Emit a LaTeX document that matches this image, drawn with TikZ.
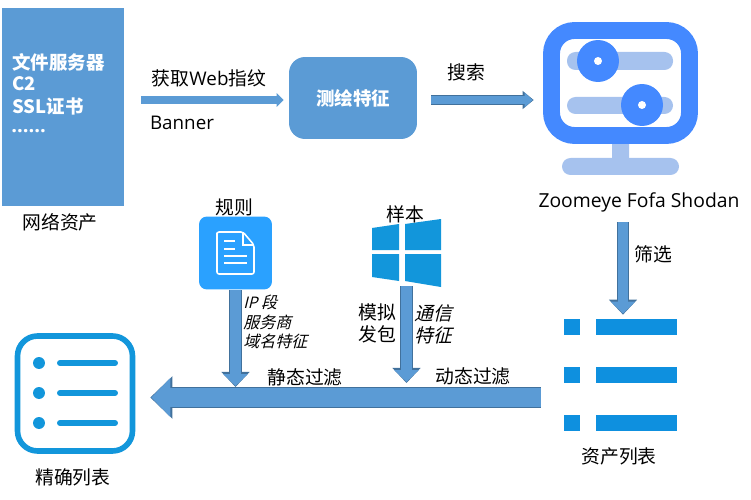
\documentclass[tikz,border=0pt]{standalone}
\usepackage{fontspec}
\setmainfont{Noto Sans CJK SC}
\newfontfamily\latinfont{Open Sans}
\newfontfamily\slantfont[FakeSlant=0.25]{Noto Sans CJK SC}
\newfontfamily\slantlatin[FakeSlant=0.25]{Open Sans}
\usetikzlibrary{arrows.meta}
\usetikzlibrary{positioning}

\definecolor{boxblue}{HTML}{5B9BD5}
\definecolor{edgeblue}{HTML}{41719C}
\definecolor{monblue}{HTML}{4489FF}
\definecolor{monpale}{HTML}{A6C2EE}
\definecolor{docblue}{HTML}{2AA1FF}
\definecolor{winblue}{HTML}{1296DB}
\definecolor{rowblue}{HTML}{0E90DF}

\tikzset{
  lbl/.style={font=\fontsize{10.7pt}{12pt}\selectfont, inner sep=0pt},
  whitelbl/.style={lbl, text=white, font=\fontsize{10.5pt}{12pt}\selectfont\bfseries},
  blockarrow/.style n args={3}{line width=#1, draw=boxblue,
    -{Triangle[width=#2, length=#3, fill=boxblue, color=boxblue, sep=0.6pt]},
    preaction={draw=edgeblue, line width=#1+0.9pt,
      {Bar[width=#1+0.9pt, line width=0.5pt]}-{Triangle[width=#2+2pt, length=#3+1.8pt, color=edgeblue, fill=edgeblue]}}},
  flatarrow/.style={line width=4pt, draw=boxblue, -{Triangle[width=7.6pt, length=4pt, fill=boxblue, color=boxblue]}},
  rowbar/.style={fill=rowblue, minimum width=1.62cm, minimum height=0.32cm, inner sep=0pt}
}

\begin{document}
\begin{tikzpicture}[x=0.02cm, y=-0.02cm]
\useasboundingbox (0,0) rectangle (751,500);

% top row
\node[fill=boxblue, minimum width=2.44cm, minimum height=3.96cm, inner sep=0pt] (assets) at (63,107) {};
\node[whitelbl, anchor=west] (assetA) at (12,62) {文件服务器};
\node[whitelbl, anchor=west] (assetB) at (12,84) {C2};
\node[whitelbl, anchor=west] (assetC) at (12,106) {SSL证书};
\node[whitelbl, anchor=west, font=\fontsize{11.5pt}{12pt}\selectfont\bfseries] (assetD) at (11,131) {{\latinfont ......}};
\node[lbl] (assetsName) at (60,222) {网络资产};

\node[fill=boxblue, rounded corners=0.32cm, minimum width=2.56cm, minimum height=1.64cm, inner sep=0pt] (mapping) at (353,98) {};
\node[whitelbl] (mappingName) at (353,98) {测绘特征};
\node[lbl] (webLabel) at (209,78) {获取{\latinfont Web}指纹};
\node[lbl] (bannerLabel) at (182,123) {\latinfont Banner};
\node[lbl] (searchLabel) at (466,72) {搜索};

% monitor with two sliders
\node[minimum width=3.1cm, minimum height=3.06cm, inner sep=0pt] (monitor) at (620.5,98.5) {};
\fill[monpale, rounded corners=1pt] (612,140) rectangle (629,160);
\fill[monpale, rounded corners=0.17cm] (562,158) rectangle (679,175);
\draw[monblue, line width=9.6pt, rounded corners=0.46cm] (551.5,30.5) rectangle (689.5,135.5);
\fill[monpale, rounded corners=0.17cm] (567,52) rectangle (673,70);
\fill[monpale, rounded corners=0.17cm] (567,97) rectangle (673,114);
\fill[monblue] (598,61) circle (0.42cm);
\fill[monblue] (642,105) circle (0.42cm);
\fill[white] (598,61) circle (0.08cm);
\fill[white] (642,105) circle (0.08cm);
\node[lbl, font=\fontsize{11pt}{12pt}\selectfont\latinfont] (engines) at (639,202) {Zoomeye Fofa Shodan};

\coordinate (assetsOut) at (124,100);
\draw[flatarrow, shorten <=0.34cm, shorten >=0.1cm] (assetsOut) -- (assetsOut -| mapping.west);
\draw[blockarrow={4.5pt}{8pt}{4.5pt}, shorten <=0.28cm, shorten >=0.18cm] (mapping.east |- assetsOut) -- (monitor.west |- assetsOut);

% rule document and sample window
\node[lbl] (ruleName) at (234,207) {规则};
\node[fill=docblue, rounded corners=0.16cm, minimum size=1.46cm, inner sep=0pt] (rule) at (235.5,253) {};
\draw[white, line width=0.9pt, rounded corners=0.04cm, line join=round] (217,235) -- (217,274) -- (254,274) -- (254,245) -- (243,232) -- (217,232) -- cycle;
\draw[white, line width=0.9pt] (243,232) -- (243,245) -- (254,245);
\draw[white, line width=0.9pt] (224,241) -- (235,241);
\draw[white, line width=0.9pt] (224,249) -- (235,249);
\draw[white, line width=0.9pt] (224,256) -- (247,256);
\draw[white, line width=0.9pt] (224,263) -- (247,263);

\node[minimum width=1.38cm, minimum height=1.36cm, inner sep=0pt] (sample) at (406.5,252) {};
\fill[winblue] (372,228) -- (399,224) -- (399,250) -- (372,250) -- cycle;
\fill[winblue] (405,224) -- (441,219) -- (441,250) -- (405,250) -- cycle;
\fill[winblue] (372,254) -- (399,254) -- (399,281) -- (372,277) -- cycle;
\fill[winblue] (405,254) -- (441,254) -- (441,287) -- (405,281) -- cycle;
\node[lbl] (sampleName) at (405,214) {样本};

\node[lbl, anchor=west, align=left, font=\fontsize{9.1pt}{11.1pt}\selectfont\slantfont] (ruleNotes) at (243,322) {{\slantlatin IP} 段\\服务商\\域名特征};
\node[lbl, anchor=west, align=left, font=\fontsize{10.7pt}{12.4pt}\selectfont] (sendLabel) at (358,323) {模拟\\发包};
\node[lbl, anchor=west, align=left, font=\fontsize{10.7pt}{12.4pt}\selectfont\slantfont] (trafficLabel) at (414,324) {通信\\特征};
\node[lbl] (staticLabel) at (305,377) {静态过滤};
\node[lbl] (dynamicLabel) at (473,376) {动态过滤};
\node[lbl] (filterLabel) at (653,254) {筛选};

% asset list
\fill[rowblue] (564,319) rectangle (580,335);
\fill[rowblue] (564,367) rectangle (580,383);
\fill[rowblue] (564,415) rectangle (580,431);
\node[rowbar] (rowA) at (636.5,327) {};
\node[rowbar] (rowB) at (636.5,375) {};
\node[rowbar] (rowC) at (636.5,423) {};
\node[lbl] (listName) at (619,456) {资产列表};

% exact list
\node[draw=winblue, line width=3.2pt, rounded corners=0.4cm, minimum size=2.3cm, inner sep=0pt] (exact) at (75,393.5) {};
\foreach \y in {363,393,423} {
  \fill[winblue] (39,\y) circle (0.12cm);
  \draw[winblue, line width=3.4pt, line cap=round] (60,\y) -- (115,\y);
}
\node[lbl] (exactName) at (73,477) {精确列表};

% connectors between rows
\coordinate (mergeEnd) at (541,397.5);
\coordinate (filterTop) at (623,222);
\draw[blockarrow={10.8pt}{21.5pt}{10.8pt}, shorten >=0.3cm] (mergeEnd) -- (mergeEnd -| exact.east);
\draw[blockarrow={6.2pt}{13.6pt}{6.8pt}, shorten >=0.21cm] (rule.south) -- (rule.south |- mergeEnd);
\draw[blockarrow={6.2pt}{13.6pt}{6.8pt}, shorten >=0.29cm] (sample.south) -- (sample.south |- mergeEnd);
\draw[blockarrow={6.2pt}{13.6pt}{6.8pt}, shorten >=0.08cm] (filterTop) -- (filterTop |- rowA.north);
\end{tikzpicture}
\end{document}
